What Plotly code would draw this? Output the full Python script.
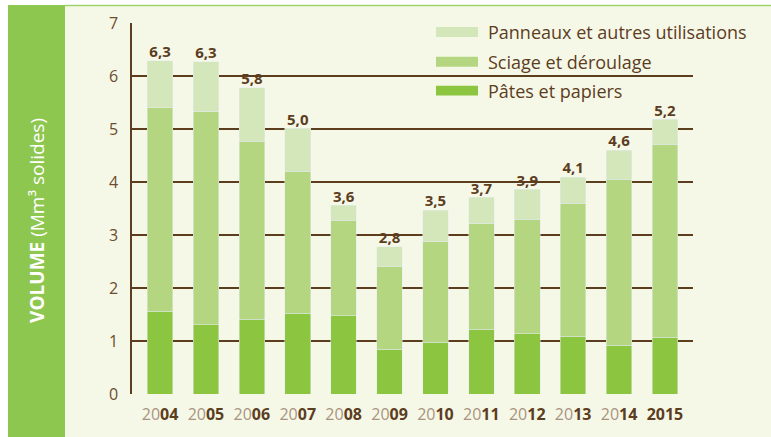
import plotly.graph_objects as go

years = ["2004", "2005", "2006", "2007", "2008", "2009", "2010", "2011", "2012", "2013", "2014", "2015"]
pates = [1.56, 1.31, 1.41, 1.52, 1.48, 0.84, 0.98, 1.22, 1.14, 1.09, 0.92, 1.07]
sciage = [3.84, 4.02, 3.36, 2.68, 1.80, 1.56, 1.89, 1.99, 2.16, 2.51, 3.13, 3.64]
panneaux = [0.89, 0.94, 1.01, 0.81, 0.28, 0.38, 0.60, 0.50, 0.56, 0.49, 0.55, 0.47]
total_labels = ["6,3", "6,3", "5,8", "5,0", "3,6", "2,8", "3,5", "3,7", "3,9", "4,1", "4,6", "5,2"]
y_ticks = [0, 1, 2, 3, 4, 5, 6, 7]
series_names = ["Panneaux et autres utilisations", "Sciage et déroulage", "Pâtes et papiers"]

C_PATES = "#8cc53f"
C_SCIAGE = "#b4d681"
C_PANNEAUX = "#d4e7ba"
C_BAND = "#8ec74f"
CREAM = "#f6f8e7"
BROWN = "#5c3d1e"
LIGHT = "#a8937f"

totals = [a + b + c for a, b, c in zip(pates, sciage, panneaux)]

def tick_text(y):
    if y == "2015":
        return "<b>" + y + "</b>"
    return "<span style='color:%s'>%s</span><b>%s</b>" % (LIGHT, y[:2], y[2:])

fig = go.Figure()
fig.add_bar(x=years, y=pates, marker_color=C_PATES, name=series_names[2], showlegend=False)
fig.add_bar(x=years, y=sciage, marker_color=C_SCIAGE, name=series_names[1], showlegend=False)
fig.add_bar(x=years, y=panneaux, marker_color=C_PANNEAUX, name=series_names[0], showlegend=False)
fig.add_scatter(x=years, y=totals, mode="text", text=total_labels, textposition="top center",
                textfont=dict(family="Open Sans", size=15, color=BROWN, weight="bold"),
                cliponaxis=False, showlegend=False, hoverinfo="skip")

W, H = 771, 437
L, R, T, B = 132, 78, 23, 41
pw, ph = W - L - R, H - T - B

def px(x):
    return (x - L) / pw

def py(y):
    return (H - B - y) / ph

shapes = [
    dict(type="rect", xref="paper", yref="paper", x0=px(65), x1=px(W + 5), y0=py(H + 5), y1=py(6),
         fillcolor=CREAM, line_width=0, layer="below"),
    dict(type="rect", xref="paper", yref="paper", x0=px(8), x1=px(65), y0=py(H + 5), y1=py(5),
         fillcolor=C_BAND, line_width=0, layer="below"),
    dict(type="line", xref="paper", yref="paper", x0=px(65), x1=px(W + 5), y0=py(5.5), y1=py(5.5),
         line=dict(color="#9fd46a", width=1.5), layer="below"),
    dict(type="rect", xref="paper", yref="paper", x0=px(420), x1=px(W + 5), y0=py(106), y1=py(21),
         fillcolor=CREAM, line_width=0, layer="between"),
]
leg_rows = [(32, C_PANNEAUX, series_names[0]), (62, C_SCIAGE, series_names[1]), (91, C_PATES, series_names[2])]
annotations = []
for yy, col, name in leg_rows:
    shapes.append(dict(type="rect", xref="paper", yref="paper", x0=px(436), x1=px(478),
                       y0=py(yy + 5), y1=py(yy - 5), fillcolor=col, line_width=0, layer="above"))
    annotations.append(dict(xref="paper", yref="paper", x=px(486), y=py(yy), text=name,
                            showarrow=False, xanchor="left", yanchor="middle",
                            font=dict(family="Open Sans", size=18, color=BROWN)))

annotations.append(dict(xref="paper", yref="paper", x=px(37), y=py(222),
                        text="<b>VOLUME</b> (Mm³ solides)", textangle=-90, showarrow=False,
                        xanchor="center", yanchor="middle",
                        font=dict(family="Open Sans", size=19, color="white")))

fig.update_layout(
    width=W, height=H,
    margin=dict(l=L, r=R, t=T, b=B),
    barmode="stack", bargap=0.444,
    paper_bgcolor="white", plot_bgcolor=CREAM,
    font=dict(family="Open Sans", color=BROWN),
    shapes=shapes, annotations=annotations,
    xaxis=dict(tickvals=years, ticktext=[tick_text(y) for y in years], showgrid=False,
               showline=False, zeroline=False, ticks="outside", ticklen=6,
               tickcolor="rgba(0,0,0,0)", tickfont=dict(size=16, color=BROWN)),
    yaxis=dict(range=[0, 7], tickvals=y_ticks, showgrid=True, gridcolor=BROWN, gridwidth=1.5,
               showline=True, linecolor=BROWN, linewidth=1.5, zeroline=False,
               ticks="outside", ticklen=9, tickcolor="rgba(0,0,0,0)",
               tickfont=dict(size=16, color="#6b4c2c")),
)

fig.write_html("out.html", config={"displayModeBar": False},
               post_script="document.body.style.margin='0px';")
